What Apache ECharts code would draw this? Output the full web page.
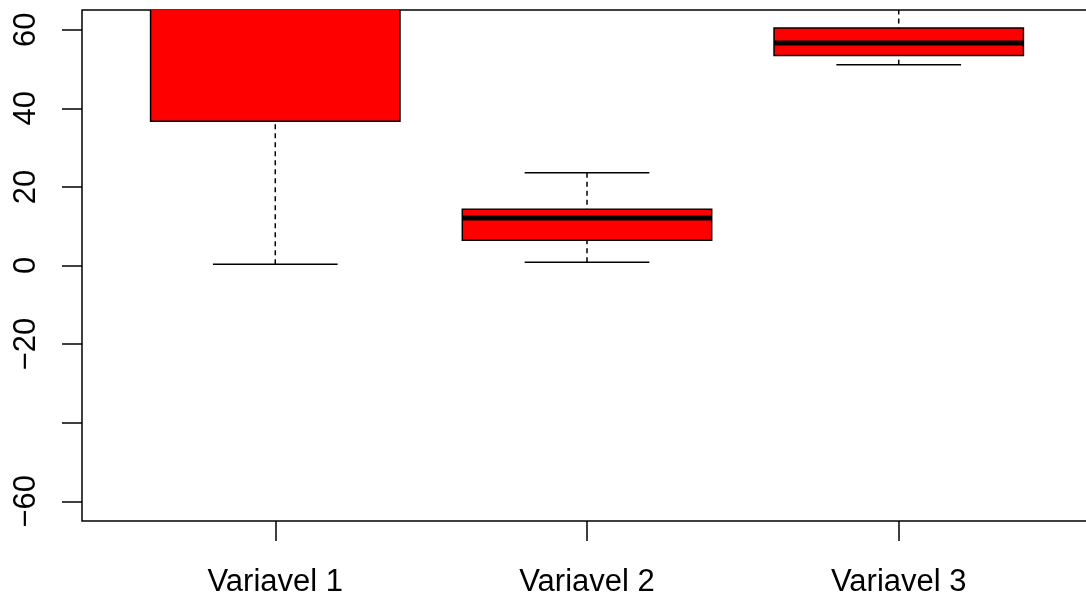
<!DOCTYPE html>
<html>
<head>
<meta charset="utf-8">
<script src="https://cdn.jsdelivr.net/npm/echarts@6/dist/echarts.min.js"></script>
<style>
  html, body { margin: 0; padding: 0; background: #ffffff; }
  #chart { width: 1086px; height: 597px; }
</style>
</head>
<body>
<div id="chart"></div>
<script>
// 各变量的五数概括
const categories = ['Variavel 1', 'Variavel 2', 'Variavel 3']
const whiskerLow = [0.3, 0.8, 51.1]
const q1 = [36.7, 6.4, 53.4]
const median = [75, 12.1, 56.6]
const q3 = [95, 14.3, 60.4]
const whiskerHigh = [130, 23.6, 72]

const yTicks = [-60, -40, -20, 0, 20, 40, 60]
const yLabels = [-60, -20, 0, 20, 40, 60]

const boxData = categories.map((c, i) => [i + 1, whiskerLow[i], q1[i], median[i], q3[i], whiskerHigh[i]])

const myChart = echarts.init(document.getElementById('chart'))

function renderBox(params, api) {
  const x = api.value(0)
  const lo = api.coord([x, api.value(1)])
  const b1 = api.coord([x, api.value(2)])
  const md = api.coord([x, api.value(3)])
  const b3 = api.coord([x, api.value(4)])
  const hi = api.coord([x, api.value(5)])
  const halfBox = api.size([0.8, 0])[0] / 2
  const halfCap = api.size([0.4, 0])[0] / 2
  const dash = { stroke: '#000', lineWidth: 1.5, lineDash: [5, 4] }
  const solid = { stroke: '#000', lineWidth: 1.5 }
  return {
    type: 'group',
    children: [
      { type: 'line', shape: { x1: lo[0], y1: lo[1], x2: lo[0], y2: b1[1] }, style: dash },
      { type: 'line', shape: { x1: hi[0], y1: hi[1], x2: hi[0], y2: b3[1] }, style: dash },
      { type: 'line', shape: { x1: lo[0] - halfCap, y1: lo[1], x2: lo[0] + halfCap, y2: lo[1] }, style: solid },
      { type: 'line', shape: { x1: hi[0] - halfCap, y1: hi[1], x2: hi[0] + halfCap, y2: hi[1] }, style: solid },
      {
        type: 'rect',
        shape: { x: b3[0] - halfBox, y: b3[1], width: halfBox * 2, height: b1[1] - b3[1] },
        style: { fill: '#ff0000', stroke: '#000', lineWidth: 1.5 }
      },
      { type: 'line', shape: { x1: md[0] - halfBox, y1: md[1], x2: md[0] + halfBox, y2: md[1] }, style: { stroke: '#000', lineWidth: 5 } }
    ]
  }
}

const font = "'Liberation Sans', Arial, Helvetica, sans-serif"

myChart.setOption({
  animation: false,
  grid: {
    left: 82,
    top: 10,
    width: 1010,
    bottom: 76,
    outerBoundsMode: 'none',
    containLabel: false,
    show: true,
    borderColor: '#000',
    borderWidth: 1.5,
    backgroundColor: 'transparent'
  },
  xAxis: {
    type: 'value',
    min: 0.38,
    max: 3.62,
    axisLine: { show: false, onZero: false },
    splitLine: { show: false },
    axisTick: { show: true, length: 20, customValues: [1, 2, 3], lineStyle: { color: '#000', width: 1.5 } },
    axisLabel: {
      customValues: [1, 2, 3],
      formatter: (v) => categories[Math.round(v) - 1],
      color: '#000',
      fontSize: 31,
      fontFamily: font,
      margin: 46
    }
  },
  yAxis: {
    type: 'value',
    min: -65,
    max: 65,
    axisLine: { show: false, onZero: false },
    splitLine: { show: false },
    axisTick: { show: true, length: 20, customValues: yTicks, lineStyle: { color: '#000', width: 1.5 } },
    axisLabel: {
      customValues: yLabels,
      rotate: 90,
      formatter: (v) => (v < 0 ? '\u2212' + Math.abs(v) : String(v)),
      color: '#000',
      fontSize: 31,
      fontFamily: font,
      margin: 40
    }
  },
  series: [
    {
      type: 'custom',
      clip: true,
      renderItem: renderBox,
      encode: { x: 0, y: [1, 2, 3, 4, 5] },
      data: boxData
    }
  ]
})
</script>
</body>
</html>
